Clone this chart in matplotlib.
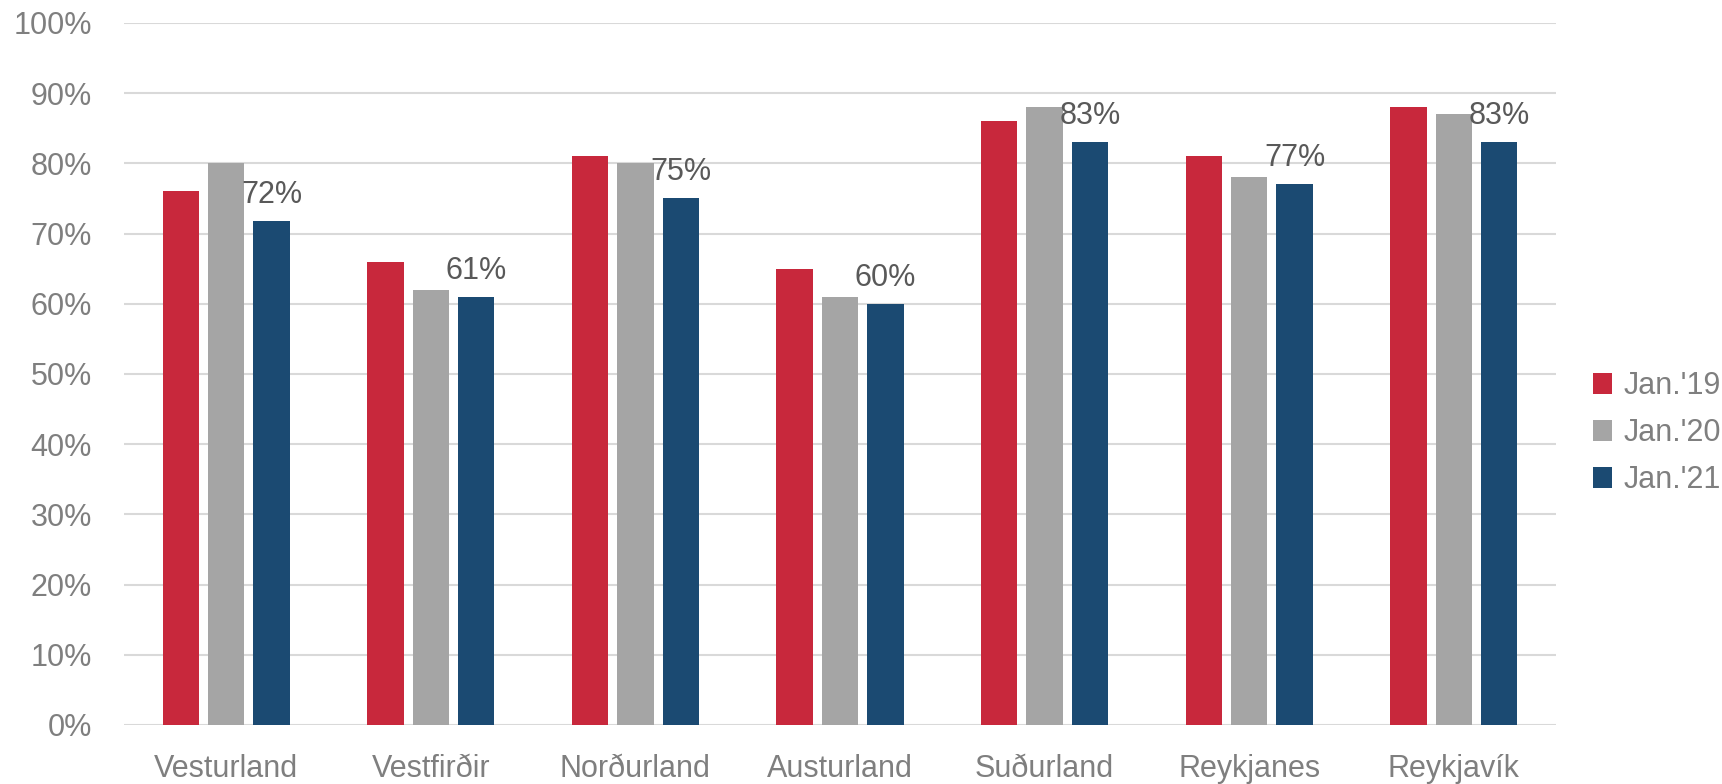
import numpy as np
import matplotlib.pyplot as plt
from matplotlib.ticker import PercentFormatter

plt.rcParams['font.family'] = ['Liberation Sans', 'DejaVu Sans']

regions = ['Vesturland', 'Vestfirðir', 'Norðurland', 'Austurland',
           'Suðurland', 'Reykjanes', 'Reykjavík']
jan19 = [76, 66, 81, 65, 86, 81, 88]
jan20 = [80, 62, 80, 61, 88, 78, 87]
jan21 = [71.8, 61, 75, 60, 83, 77, 83]
series_names = ["Jan.'19", "Jan.'20", "Jan.'21"]
colors = ['#C8283C', '#A5A5A5', '#1B4A72']

fig = plt.figure(figsize=(17.22, 7.84), dpi=100)
ax = fig.add_axes([0.072, 0.0753, 0.8316, 0.8954])

x = np.arange(len(regions))
width = 0.178
step = 0.222
handles = []
for i, (vals, name, c) in enumerate(zip([jan19, jan20, jan21], series_names, colors)):
    b = ax.bar(x + (i - 1) * step, vals, width, color=c, label=name, zorder=3)
    handles.append(b)

# labels only on latest series
for xi, v in zip(x + step, jan21):
    ax.annotate(f'{round(v)}%', (xi, v), xytext=(0, 8), textcoords='offset points',
                ha='center', va='bottom', fontsize=22, color='#595959', zorder=4)

ax.set_xlim(-0.5, len(regions) - 0.5)
ax.set_ylim(0, 100)
ax.set_yticks(np.arange(0, 101, 10))
ax.yaxis.set_major_formatter(PercentFormatter(decimals=0))
ax.set_xticks(x)
ax.set_xticklabels(regions)
ax.tick_params(axis='both', length=0, labelsize=22, labelcolor='#7F7F7F')
ax.tick_params(axis='y', pad=23)
ax.tick_params(axis='x', pad=21)
ax.grid(axis='y', color='#D9D9D9', linewidth=1.5, zorder=0)
for s in ax.spines.values():
    s.set_visible(False)

fig.legend(handles=handles, loc='center left', bbox_to_anchor=(0.9195, 0.4473),
           frameon=False, fontsize=22, handlelength=0.65, handleheight=0.65,
           handletextpad=0.35, labelspacing=0.56, labelcolor='#7F7F7F',
           borderaxespad=0, borderpad=0.3)

fig.savefig('out.png', dpi=100)
